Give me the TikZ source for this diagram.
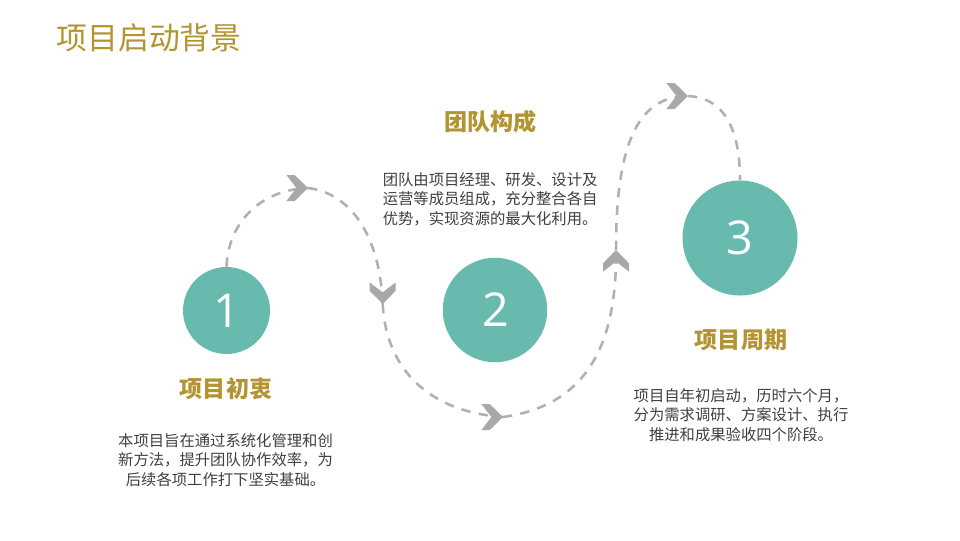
\documentclass[tikz,border=0pt]{standalone}
\usepackage{fontspec}
\setmainfont{Noto Sans CJK SC}
\newfontfamily\digitfont{Open Sans}
\definecolor{gold}{HTML}{B29432}
\definecolor{teal}{HTML}{67BAAD}
\definecolor{dashgray}{HTML}{B0B0B0}
\definecolor{chevgray}{HTML}{A8A8A8}
\definecolor{bodygray}{HTML}{404040}
\tikzset{
    circ/.style={circle, fill=teal, text=white, inner sep=0pt, font=\digitfont\fontsize{35}{35}\selectfont},
    heading/.style={text=gold, font=\fontsize{17.3}{20}\selectfont\bfseries},
    bodytext/.style={text=bodygray, align=center, font=\fontsize{11.5}{14.6}\selectfont},
    route/.style={dashgray, line width=1.9pt, dash pattern=on 7pt off 6.2pt},
    chevron/.pic={\fill[chevgray] (0,0) -- (-13.3,13) -- (-21.6,13) -- (-11.6,0) -- (-21.6,-13) -- (-13.3,-13) -- cycle;}
}
\begin{document}
\begin{tikzpicture}[x=0.75pt, y=-0.75pt]

    % page size in pixels of the slide:
    \useasboundingbox[fill=white] (0,0) rectangle (960,540);

    \node[text=gold, anchor=west, inner sep=0pt, font=\fontsize{23.1}{26}\selectfont] (title) at (56.5,38) {项目启动背景};

    % points where the route changes direction:
    \coordinate (tipa) at (308,188);
    \coordinate (tipb) at (382.7,304);
    \coordinate (tipc) at (503,417);
    \coordinate (tipd) at (616,250);
    \coordinate (tipe) at (688,96);

    \node[circ, minimum size=87*0.75pt] (one) at (226.5,310.5) {1};
    \node[circ, minimum size=104.5*0.75pt] (two) at (495,310) {\hspace{2pt}2};
    \node[circ, minimum size=115*0.75pt] (three) at (740,238) {3};

    % the dashed route through the three circles:
    \draw[route] (one.north) .. controls (228,225) and (258,190) .. (tipa);
    \draw[route] (tipa) .. controls (350,193) and (380,235) .. (tipb);
    \draw[route] (tipb) .. controls (386,370) and (430,412) .. (tipc);
    \draw[route] (tipc) .. controls (590,405) and (617,340) .. (tipd);
    \draw[route] (tipd) .. controls (616,150) and (635,96) .. (tipe);
    \draw[route] (tipe) .. controls (725,98) and (740,130) .. (three.north);

    \pic at (tipa) {chevron};
    \pic[rotate=-90] at (tipb) {chevron};
    \pic at (tipc) {chevron};
    \pic[rotate=90] at (tipd) {chevron};
    \pic at (tipe) {chevron};

    % headings and their texts:
    \node[heading] (heada) at (226,388.5) {项目初衷};
    \node[heading] (headb) at (490.5,121.5) {团队构成};
    \node[heading] (headc) at (741,339.5) {项目周期};

    \node[bodytext] (texta) at (225.5,460) {本项目旨在通过系统化管理和创\\新方法，提升团队协作效率，为\\后续各项工作打下坚实基础。};
    \node[bodytext, align=left, anchor=west, inner sep=0pt] (textb) at (382.5,199) {团队由项目经理、研发、设计及\\运营等成员组成，充分整合各自\\优势，实现资源的最大化利用。};
    \node[bodytext] (textc) at (741,415) {项目自年初启动，历时六个月，\\分为需求调研、方案设计、执行\\推进和成果验收四个阶段。};
%
\end{tikzpicture}
\end{document}
